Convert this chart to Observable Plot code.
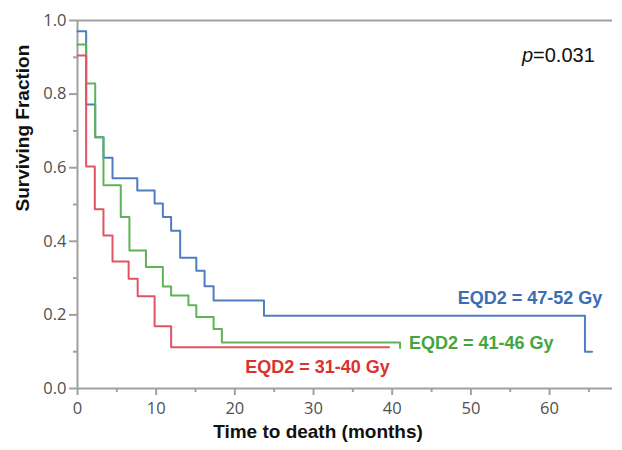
<!DOCTYPE html>
<html><head><meta charset="utf-8">
<script src="https://cdn.jsdelivr.net/npm/d3@7"></script>
<script src="https://cdn.jsdelivr.net/npm/@observablehq/plot@0.6"></script>
<style>body{margin:0;background:#fff;}</style>
</head><body><div id="chart"></div>
<script>
// Series (Kaplan–Meier steps): time in months, surviving fraction
const groups = ["EQD2 = 47-52 Gy", "EQD2 = 41-46 Gy", "EQD2 = 31-40 Gy"];
const highTime = [0, 1.1, 2.25, 3.3, 4.45, 7.6, 9.8, 10.85, 11.9, 13.05, 15.1, 16.15, 17.3, 23.7, 64.5, 65.4];
const highSurv = [0.971, 0.772, 0.683, 0.627, 0.571, 0.538, 0.503, 0.466, 0.429, 0.355, 0.32, 0.278, 0.239, 0.198, 0.1, 0.1];
const midTime = [0, 1.1, 2.25, 3.3, 5.5, 6.6, 8.7, 10.85, 11.9, 14.1, 15.1, 17.3, 18.35, 41.0];
const midSurv = [0.935, 0.829, 0.683, 0.552, 0.466, 0.375, 0.33, 0.277, 0.253, 0.226, 0.194, 0.162, 0.125, 0.11];
const lowTime = [0, 1.1, 2.2, 3.3, 4.45, 6.5, 7.65, 9.8, 11.9, 39.6];
const lowSurv = [0.905, 0.603, 0.487, 0.416, 0.345, 0.298, 0.251, 0.169, 0.112, 0.112];

// Label anchor positions (data units)
const labelTime = [66.7, 60.5, 39.7];
const labelSurv = [0.245, 0.122, 0.057];

// Ticks
const yMajor = [0, 0.2, 0.4, 0.6, 0.8, 1.0];
const yMinor = [0.1, 0.3, 0.5, 0.7, 0.9];
const xMajor = [0, 10, 20, 30, 40, 50, 60];
const xMinor = [5, 15, 25, 35, 45, 55, 65];
const pLabel = "p";
const pValue = "=0.031";
const pPos = {time: 57.9, surv: 0.905};
const xTitle = "Time to death (months)";
const yTitle = "Surviving Fraction";

const lineColors = {"EQD2 = 47-52 Gy": "#4f7cc3", "EQD2 = 41-46 Gy": "#5db356", "EQD2 = 31-40 Gy": "#e05563"};
const textColors = {"EQD2 = 47-52 Gy": "#3a6db5", "EQD2 = 41-46 Gy": "#45a63e", "EQD2 = 31-40 Gy": "#d9332e"};

const rows = [];
[[groups[0], highTime, highSurv], [groups[1], midTime, midSurv], [groups[2], lowTime, lowSurv]]
  .forEach(([g, ts, ss]) => ts.forEach((t, i) => rows.push({group: g, time: t, surv: ss[i]})));
const labels = groups.map((g, i) => ({group: g, time: labelTime[i], surv: labelSurv[i]}));

const axisGray = "#a0a0a0";
const labelFont = "Liberation Sans, Arial, sans-serif";
const tickFont = "Open Sans, sans-serif";
const fmtY = d3.format(".1f"), fmtX = d3.format("d");

const plot = Plot.plot({
  width: 622, height: 450,
  marginLeft: 77, marginRight: 10, marginTop: 20, marginBottom: 62,
  x: {domain: [0, 68]},
  y: {domain: [0, 1]},
  style: {fontFamily: tickFont, background: "white", overflow: "visible"},
  marks: [
    Plot.ruleY([1], {stroke: axisGray, strokeWidth: 2}),
    Plot.axisY(yMinor, {tickSize: 4, tickFormat: () => "", stroke: axisGray, strokeWidth: 2, label: null}),
    Plot.axisY(yMajor, {tickSize: 8, tickFormat: () => "", stroke: axisGray, strokeWidth: 2, label: null}),
    Plot.axisX(xMinor, {tickSize: 4, tickFormat: () => "", stroke: axisGray, strokeWidth: 2, label: null}),
    Plot.axisX(xMajor, {tickSize: 7, tickFormat: () => "", stroke: axisGray, strokeWidth: 2, label: null}),
    Plot.text(yMajor, {frameAnchor: "left", y: d => d, text: d => fmtY(d), textAnchor: "end", dx: -11,
      fontFamily: tickFont, fontSize: 16.5, fill: "#505050"}),
    Plot.text(xMajor, {frameAnchor: "bottom", x: d => d, text: d => fmtX(d), lineAnchor: "top", dy: 14,
      fontFamily: tickFont, fontSize: 16.5, fill: "#505050"}),
    Plot.ruleX([0], {stroke: axisGray, strokeWidth: 2}),
    Plot.ruleY([0], {stroke: axisGray, strokeWidth: 2}),
    Plot.line(rows, {x: "time", y: "surv", z: "group", stroke: d => lineColors[d.group], curve: "step-after", strokeWidth: 2}),
    Plot.text(labels, {x: "time", y: "surv", text: "group", fill: d => textColors[d.group], textAnchor: "end",
      fontFamily: labelFont, fontWeight: "bold", fontSize: 18}),
    Plot.text([pPos], {x: "time", y: "surv", text: () => pLabel, textAnchor: "end", fontStyle: "italic",
      fontFamily: labelFont, fontSize: 20, fill: "#111"}),
    Plot.text([pPos], {x: "time", y: "surv", text: () => pValue, textAnchor: "start",
      fontFamily: labelFont, fontSize: 20, fill: "#111"}),
    Plot.text([xTitle], {frameAnchor: "bottom", dy: 49, dx: -27, fontFamily: labelFont, fontWeight: "bold", fontSize: 19, fill: "#111"}),
    Plot.text([yTitle], {frameAnchor: "left", rotate: -90, dx: -55, dy: 7, fontFamily: labelFont, fontWeight: "bold", fontSize: 19, fill: "#111"})
  ]
});
document.getElementById("chart").append(plot);
</script>
</body></html>
